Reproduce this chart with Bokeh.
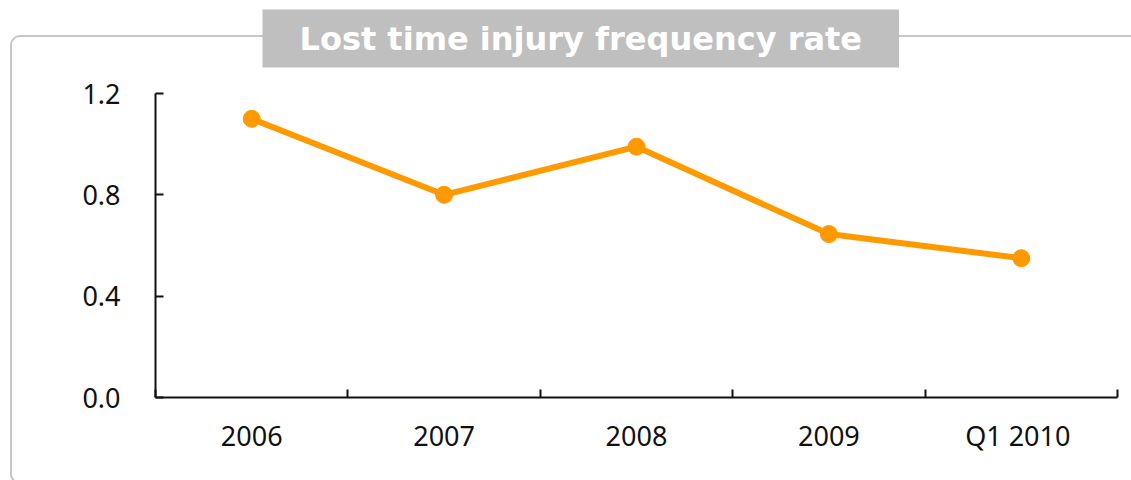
from bokeh.plotting import figure
from bokeh.models import (FactorRange, LinearAxis, FixedTicker, Range1d,
                          NumeralTickFormatter, Title)
from bokeh.embed import file_html
from bokeh.resources import INLINE

title_text = "Lost time injury frequency rate"
categories = ["2006", "2007", "2008", "2009", "Q1  2010"]
rate = [1.10, 0.80, 0.99, 0.645, 0.55]
y_ticks = [0.0, 0.4, 0.8, 1.2]

W, H = 1131, 480
ORANGE = "#ff9900"
FONT = "Noto Sans"
INK = "#111111"

# rounded light-grey frame drawn behind the transparent canvas
frame_svg = ("data:image/svg+xml;utf8,<svg xmlns='http://www.w3.org/2000/svg' "
             "width='1131' height='480'><rect x='11' y='36' width='1150' height='447' "
             "rx='9' ry='9' fill='none' stroke='%23c6c6c6' stroke-width='2'/></svg>")

p = figure(width=W, height=H, output_backend="svg", toolbar_location=None,
           x_range=FactorRange(*categories, range_padding=0),
           y_range=Range1d(0, 1.2),
           x_axis_type=None, y_axis_type=None,
           min_border_left=155, min_border_right=14,
           min_border_top=91, min_border_bottom=83)
p.styles = {"background-color": "white",
            "background-image": f'url("{frame_svg}")',
            "background-repeat": "no-repeat"}
p.outline_line_color = None
p.xgrid.visible = False
p.ygrid.visible = False
p.background_fill_color = None
p.border_fill_color = None

# empty spacer between the title box and the plot frame
spacer = Title(text=" ", text_font_size="8px", standoff=8, padding=0)
p.add_layout(spacer, "above")
title = Title(text=title_text, align="left", offset=107,
              text_font="DejaVu Sans", text_font_style="bold", text_font_size="32px",
              text_color="white", background_fill_color="#bfbfbf",
              padding=(37, 10), standoff=14)
p.add_layout(title, "above")

# x axis: labels at category centres, small ticks at category boundaries
n = len(categories)
centres = [i + 0.5 for i in range(n)]
bounds = [float(i) for i in range(n + 1)]
xax = LinearAxis(ticker=FixedTicker(ticks=centres, minor_ticks=bounds))
xax.major_label_overrides = {c: lab for c, lab in zip(centres, categories)}
xax.major_tick_in = 0
xax.major_tick_out = 0
xax.minor_tick_in = 8
xax.minor_tick_out = 0
xax.minor_tick_line_width = 2
xax.minor_tick_line_color = INK
xax.axis_line_width = 2
xax.axis_line_color = INK
xax.major_label_text_font = FONT
xax.major_label_text_font_size = "27px"
xax.major_label_text_color = INK
xax.major_label_standoff = 19
p.add_layout(xax, "below")

yax = LinearAxis(ticker=FixedTicker(ticks=y_ticks, minor_ticks=[]),
                 formatter=NumeralTickFormatter(format="0.0"))
yax.major_tick_in = 8
yax.major_tick_out = 0
yax.major_tick_line_width = 2
yax.major_tick_line_color = INK
yax.axis_line_width = 2
yax.axis_line_color = INK
yax.major_label_text_font = FONT
yax.major_label_text_font_size = "27px"
yax.major_label_text_color = INK
yax.major_label_standoff = 35
p.add_layout(yax, "left")

p.line(x=categories, y=rate, line_color=ORANGE, line_width=6)
p.scatter(x=categories, y=rate, size=17, fill_color=ORANGE, line_color=ORANGE)

open("out.html", "w").write(file_html(p, INLINE))
